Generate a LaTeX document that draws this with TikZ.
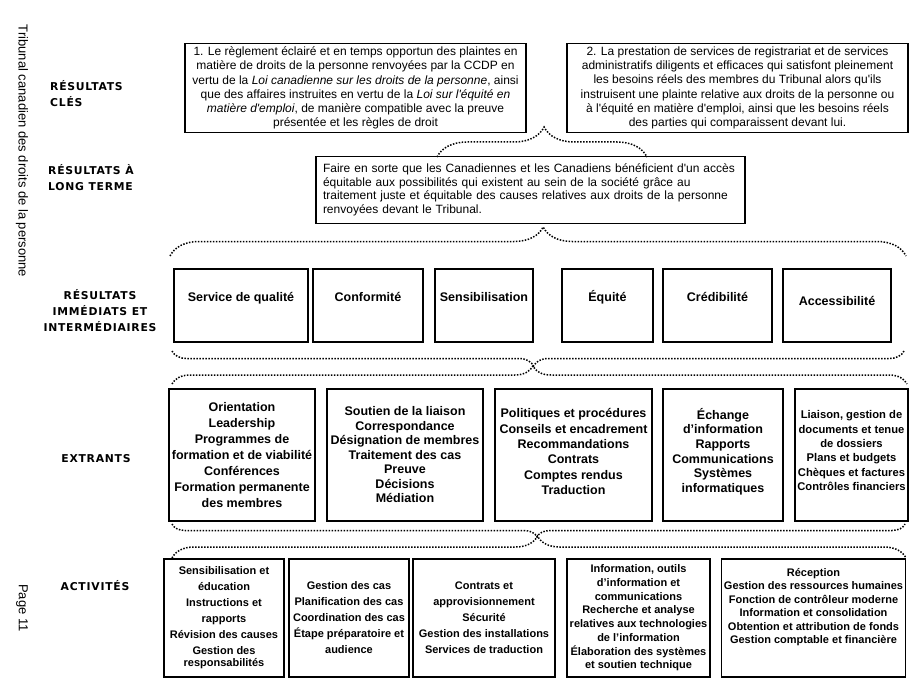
\documentclass[tikz,border=0pt]{standalone}
\usepackage{fontspec}
\setmainfont{Liberation Sans}
\newfontfamily\labfont[LetterSpace=7]{DejaVu Sans}
\usetikzlibrary{decorations.pathreplacing}

\begin{document}
\begin{tikzpicture}[x=1pt,y=-1pt,
    box/.style={draw,line width=1.1pt,inner sep=2pt,outer sep=0pt,align=center},
    keybox/.style={box,minimum width=341pt,minimum height=89pt,font=\fontsize{12}{14.3}\selectfont},
    longbox/.style={box,align=left,inner sep=7pt,text width=415pt,minimum height=58pt,font=\fontsize{12}{13.6}\selectfont},
    resbox/.style={box,minimum height=73pt,text height=9pt,text depth=17pt,font=\bfseries\fontsize{12.5}{15}\selectfont},
    outbox/.style={box,minimum height=132pt,font=\bfseries\fontsize{12.5}{15.3}\selectfont},
    actbox/.style={box,minimum height=118pt,font=\bfseries\fontsize{11}{16}\selectfont},
    sidelab/.style={inner sep=0pt,font=\labfont\bfseries\fontsize{10.8}{16}\selectfont},
    sidetext/.style={rotate=-90,inner sep=0pt,font=\fontsize{13}{15}\selectfont},
    bracedots/.style={decorate,line width=1.5pt,dash pattern=on 1.5pt off 1.5pt}]
    \useasboundingbox (0,0) rectangle (916,690);

    % side texts
    \node[sidetext] (tribunal) at (22,151) {Tribunal canadien des droits de la personne};
    \node[sidetext] (page) at (22,608) {Page 11};

    % row labels
    \node[sidelab,anchor=west,align=left] (lab-key) at (50,94) {RÉSULTATS\\CLÉS};
    \node[sidelab,anchor=west,align=left] (lab-long) at (48,178) {RÉSULTATS À\\LONG TERME};
    \node[sidelab,align=center] (lab-imm) at (100,310.5) {RÉSULTATS\\IMMÉDIATS ET\\INTERMÉDIAIRES};
    \node[sidelab] (lab-out) at (96,459) {EXTRANTS};
    \node[sidelab] (lab-act) at (95,586) {ACTIVITÉS};

    % key results
    \node[keybox] (key1) at (355.5,88) {1. Le règlement éclairé et en temps opportun des plaintes en\\
        matière de droits de la personne renvoyées par la CCDP en\\
        vertu de la \textit{Loi canadienne sur les droits de la personne}, ainsi\\
        que des affaires instruites en vertu de la \textit{Loi sur l\textquotesingle équité en}\\
        \textit{matière d\textquotesingle emploi}, de manière compatible avec la preuve\\
        présentée et les règles de droit};
    \node[keybox] (key2) at (737.5,88) {2. La prestation de services de registrariat et de services\\
        administratifs diligents et efficaces qui satisfont pleinement\\
        les besoins réels des membres du Tribunal alors qu\textquotesingle ils\\
        instruisent une plainte relative aux droits de la personne ou\\
        à l\textquotesingle équité en matière d\textquotesingle emploi, ainsi que les besoins réels\\
        des parties qui comparaissent devant lui.};

    % long term result
    \node[longbox] (long) at (530.5,190) {Faire en sorte que les Canadiennes et les Canadiens bénéficient d\textquotesingle un accès\\
        équitable aux possibilités qui existent au sein de la société grâce au\\
        traitement juste et équitable des causes relatives aux droits de la personne\\
        renvoyées devant le Tribunal.};

    % immediate and intermediate results
    \node[resbox,minimum width=134pt] (imm1) at (241,305.5) {Service de qualité};
    \node[resbox,minimum width=110pt] (imm2) at (368,305.5) {Conformité};
    \node[resbox,minimum width=98pt] (imm3) at (484,305.5) {Sensibilisation};
    \node[resbox,minimum width=91pt] (imm4) at (607.5,305.5) {Équité};
    \node[resbox,minimum width=109pt] (imm5) at (717.5,305.5) {Crédibilité};
    \node[resbox,minimum width=108pt,text depth=9pt] (imm6) at (837,305.5) {Accessibilité};

    % outputs
    \node[outbox,minimum width=146pt,font=\bfseries\fontsize{12.5}{15.9}\selectfont] (out1) at (242,455) {Orientation\\Leadership\\Programmes de\\formation et de viabilité\\Conférences\\Formation permanente\\des membres};
    \node[outbox,minimum width=156pt,font=\bfseries\fontsize{12.5}{14.5}\selectfont] (out2) at (405,455) {Soutien de la liaison\\Correspondance\\Désignation de membres\\Traitement des cas\\Preuve\\Décisions\\Médiation};
    \node[outbox,minimum width=157pt,text depth=7pt] (out3) at (573.5,455) {Politiques et procédures\\Conseils et encadrement\\Recommandations\\Contrats\\Comptes rendus\\Traduction};
    \node[outbox,minimum width=120pt,text depth=9.5pt,font=\bfseries\fontsize{12.5}{14.6}\selectfont] (out4) at (723,455) {Échange\\d’information\\Rapports\\Communications\\Systèmes\\informatiques};
    \node[outbox,minimum width=113pt,text depth=9pt,font=\bfseries\fontsize{11.2}{14.3}\selectfont] (out5) at (851.5,455) {Liaison, gestion de\\documents et tenue\\de dossiers\\Plans et budgets\\Chèques et factures\\Contrôles financiers};

    % activities
    \node[actbox,minimum width=120pt] (act1) at (224,618) {Sensibilisation et\\éducation\\Instructions et\\rapports\\Révision des causes\\Gestion des\\[-4pt]responsabilités};
    \node[actbox,minimum width=120pt] (act2) at (349,618) {Gestion des cas\\Planification des cas\\Coordination des cas\\Étape préparatoire et\\audience};
    \node[actbox,minimum width=142pt] (act3) at (484,618) {Contrats et\\approvisionnement\\Sécurité\\Gestion des installations\\Services de traduction};
    \node[actbox,minimum width=143pt,font=\bfseries\fontsize{11}{13.7}\selectfont] (act4) at (638.5,618) {Information, outils\\d’information et\\communications\\Recherche et analyse\\relatives aux technologies\\de l’information\\Élaboration des systèmes\\et soutien technique};
    \node[actbox,minimum width=181pt,text depth=24pt,font=\bfseries\fontsize{11}{13.5}\selectfont] (act5) at (813.5,618) {Réception\\Gestion des ressources humaines\\Fonction de contrôleur moderne\\Information et consolidation\\Obtention et attribution de fonds\\Gestion comptable et financière};

    % dotted braces between the rows
    \coordinate (b1l) at (437,157);
    \coordinate (b1r) at (647,157);
    \coordinate (b2l) at (170,256);
    \coordinate (b2r) at (906,256);
    \coordinate (b3l) at (172,351);
    \coordinate (b3r) at (904,351);
    \coordinate (b4l) at (172,384);
    \coordinate (b4r) at (907,384);
    \coordinate (b5l) at (172,524);
    \coordinate (b5r) at (905,524);
    \coordinate (b6l) at (172,558);
    \coordinate (b6r) at (906,558);
    \draw[bracedots,decoration={brace,amplitude=30pt,aspect=0.51}] (b1l) -- (b1r);
    \draw[bracedots,decoration={brace,amplitude=29pt,aspect=0.507}] (b2l) -- (b2r);
    \draw[bracedots,decoration={brace,mirror,amplitude=15pt,aspect=0.494}] (b3l) -- (b3r);
    \draw[bracedots,decoration={brace,amplitude=18pt,aspect=0.491}] (b4l) -- (b4r);
    \draw[bracedots,decoration={brace,mirror,amplitude=13pt,aspect=0.498}] (b5l) -- (b5r);
    \draw[bracedots,decoration={brace,amplitude=22pt,aspect=0.498}] (b6l) -- (b6r);
\end{tikzpicture}
\end{document}
